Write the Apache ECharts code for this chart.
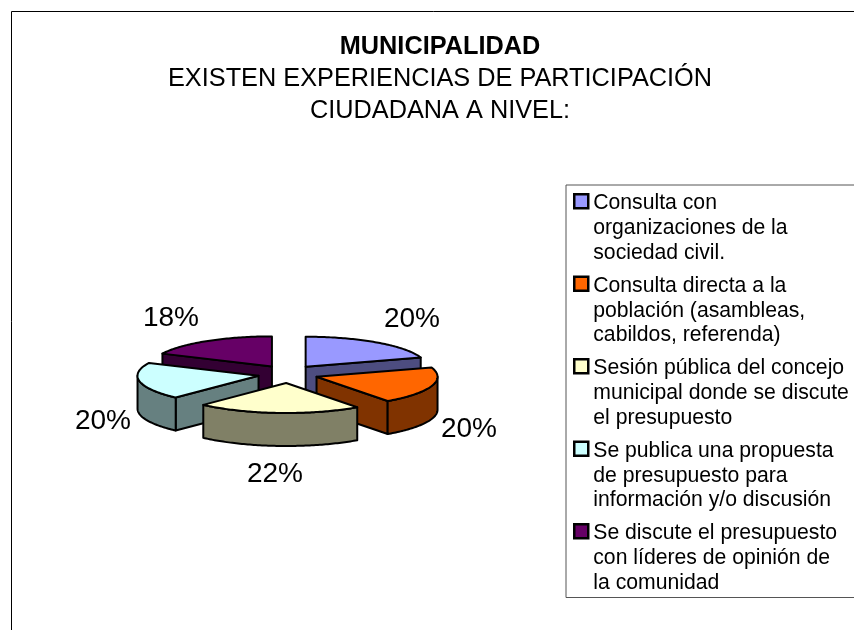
<!DOCTYPE html>
<html><head><meta charset="utf-8">
<style>html,body{margin:0;padding:0;background:#fff}#c{width:854px;height:630px}</style>
<script src="https://cdn.jsdelivr.net/npm/echarts@6/dist/echarts.min.js"></script>
</head><body><div id="c"></div>
<script>
const categories = [
  "Consulta con\norganizaciones de la\nsociedad civil.",
  "Consulta directa a la\npoblación (asambleas,\ncabildos, referenda)",
  "Sesión pública del concejo\nmunicipal donde se discute\nel presupuesto",
  "Se publica una propuesta\nde presupuesto para\ninformación y/o discusión",
  "Se discute el presupuesto\ncon líderes de opinión de\nla comunidad"
];
const values = [20, 20, 22, 20, 18];
const topColors = ["#9999FF", "#FF6600", "#FFFFCC", "#CCFFFF", "#660066"];
const sideColors = ["#4D4D80", "#803300", "#808066", "#668080", "#330033"];
const paintOrder = [4, 0, 3, 1, 2];

// Layout of the tilted pie
const CX = 288, CY = 374, RX = 121, RY = 30, DEPTH = 33, EXPLODE_X = 30, EXPLODE_Y = 9;
const LABEL_POS = [[124, -55], [181, 55], [-13, 100], [-185, 47], [-117, -56]];

const total = values.reduce((a, b) => a + b, 0);
const rad = d => d * Math.PI / 180;

function renderSlice(i, api) {
  const v = api.value(0);
  const start = values.slice(0, i).reduce((a, b) => a + b, 0) / total * 360;
  const end = start + v / total * 360;
  const mid = (start + end) / 2;
  const ax = CX + EXPLODE_X * Math.sin(rad(mid));
  const ay = CY - EXPLODE_Y * Math.cos(rad(mid));
  const pt = (d, dz) => [ax + RX * Math.sin(rad(d)), ay - RY * Math.cos(rad(d)) + (dz || 0)];
  const arc = (a, b, dz) => {
    const out = [], n = Math.max(2, Math.ceil(Math.abs(b - a)));
    for (let k = 0; k <= n; k++) out.push(pt(a + (b - a) * k / n, dz));
    return out;
  };
  const line = { stroke: "#000", lineWidth: 2, lineJoin: "round" };
  const side = Object.assign({ fill: sideColors[i] }, line);
  const top = Object.assign({ fill: topColors[i] }, line);
  const children = [];
  const cut = d => children.push({ type: "polygon",
    shape: { points: [[ax, ay], pt(d), pt(d, DEPTH), [ax, ay + DEPTH]] }, style: side });
  if (Math.sin(rad(start)) < 0) cut(start);
  if (Math.sin(rad(end)) > 0) cut(end);
  const wa = Math.max(start, 90), wb = Math.min(end, 270);
  if (wb > wa) children.push({ type: "polygon",
    shape: { points: arc(wa, wb).concat(arc(wb, wa, DEPTH)) }, style: side });
  children.push({ type: "polygon",
    shape: { points: [[ax, ay]].concat(arc(start, end)) }, style: top });
  children.push({ type: "text", silent: true, z2: 100, style: {
    x: CX + LABEL_POS[i][0], y: CY + LABEL_POS[i][1],
    text: Math.round(v / total * 100) + "%", fill: "#000", align: "center", verticalAlign: "middle",
    font: '28px "Liberation Sans", Arial, sans-serif' } });
  return { type: "group", children };
}

const chart = echarts.init(document.getElementById("c"), null, { renderer: "canvas" });
chart.setOption({
  animation: false,
  backgroundColor: "#fff",
  graphic: [{ type: "rect", silent: true, z: -1,
    shape: { x: 11.5, y: 11.5, width: 1000, height: 800 },
    style: { fill: "none", stroke: "#000", lineWidth: 1 } }],
  title: {
    left: 435, top: 30, textAlign: "center", itemGap: 3,
    text: "MUNICIPALIDAD",
    subtext: "EXISTEN EXPERIENCIAS DE PARTICIPACIÓN\nCIUDADANA A NIVEL:",
    textStyle: { fontFamily: "Liberation Sans", fontSize: 25.3, fontWeight: "bold", color: "#000" },
    subtextStyle: { fontFamily: "Liberation Sans", fontSize: 25.3, color: "#000", lineHeight: 32, align: "center" }
  },
  legend: {
    orient: "vertical", left: 566, top: 185,
    padding: [5, 30, 1, 7], itemGap: 6, itemWidth: 14, itemHeight: 74,
    borderColor: "#555", borderWidth: 1, backgroundColor: "#fff",
    selectedMode: false,
    icon: "path://M0 0L0 0 M0 3L14 3L14 17L0 17Z M0 74L0 74",
    textStyle: { fontFamily: "Liberation Sans", fontSize: 21.2, lineHeight: 24.7, color: "#000" },
    data: categories.map((name, i) => ({ name,
      itemStyle: { color: topColors[i], borderColor: "#000", borderWidth: 2.5 } }))
  },
  series: categories.map((name, i) => ({
    type: "custom", name, coordinateSystem: "none", silent: true,
    z: 2 + paintOrder.indexOf(i),
    itemStyle: { color: topColors[i] },
    data: [[values[i]]],
    renderItem: (params, api) => renderSlice(i, api)
  }))
});
</script></body></html>
